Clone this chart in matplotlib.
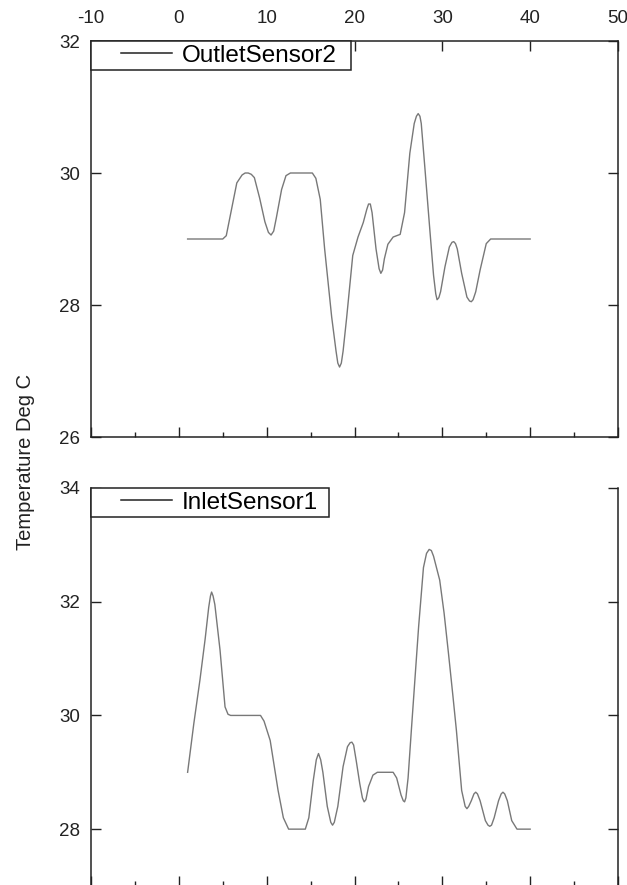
import numpy as np
import matplotlib.pyplot as plt
from matplotlib.lines import Line2D
from matplotlib.legend_handler import HandlerLine2D
from matplotlib.ticker import MultipleLocator

# values
outlet_time = [1, 5.0, 5.4, 6.0, 6.6, 7.2, 7.55, 7.9, 8.25, 8.6, 9.2, 9.8, 10.2, 10.5, 10.8,
               11.1, 11.7, 12.2, 12.7, 15.2, 15.6, 16.1, 16.6, 17.4, 17.9, 18.1, 18.3, 18.5,
               18.7, 19.1, 19.8, 20.4, 21.0, 21.4, 21.6, 21.8, 22.0, 22.45, 22.8, 23.0, 23.2,
               23.4, 23.8, 24.4, 25.2, 25.7, 26.3, 26.8, 27.05, 27.25, 27.45, 27.6, 28.0, 28.6,
               29.0, 29.25, 29.4, 29.6, 29.8, 30.3, 30.8, 31.1, 31.3, 31.5, 31.7, 32.2, 32.8,
               33.1, 33.3, 33.5, 33.8, 34.3, 35.0, 35.5, 40]
outlet_temp = [29.0, 29.0, 29.05, 29.45, 29.85, 29.97, 30.0, 30.0, 29.98, 29.93, 29.62, 29.26,
               29.1, 29.06, 29.12, 29.32, 29.75, 29.96, 30.0, 30.0, 29.92, 29.6, 28.85, 27.82,
               27.3, 27.12, 27.06, 27.12, 27.3, 27.8, 28.75, 29.03, 29.25, 29.45, 29.53, 29.53,
               29.4, 28.85, 28.55, 28.48, 28.53, 28.7, 28.92, 29.03, 29.07, 29.4, 30.3, 30.75,
               30.86, 30.9, 30.86, 30.75, 30.1, 29.1, 28.45, 28.17, 28.08, 28.11, 28.2, 28.58,
               28.88, 28.95, 28.96, 28.93, 28.85, 28.48, 28.12, 28.06, 28.05, 28.08, 28.2, 28.53,
               28.93, 29.0, 29.0]

inlet_time = [1, 1.7, 2.4, 3.0, 3.4, 3.6, 3.73, 3.9, 4.1, 4.69, 5.26, 5.6, 5.9, 9.3, 9.7, 10.4,
              11.3, 11.9, 12.5, 14.4, 14.8, 15.3, 15.65, 15.9, 16.15, 16.4, 16.9, 17.3, 17.5,
              17.7, 18.1, 18.7, 19.2, 19.5, 19.7, 19.9, 20.2, 20.6, 20.9, 21.1, 21.3, 21.6,
              22.1, 22.6, 24.4, 24.8, 25.3, 25.55, 25.7, 25.85, 26.1, 26.5, 27.0, 27.3, 27.85,
              28.2, 28.5, 28.75, 29.0, 29.7, 30.2, 30.7, 31.2, 31.6, 32.2, 32.6, 32.8, 33.0,
              33.3, 33.6, 33.8, 34.0, 34.3, 34.9, 35.2, 35.4, 35.6, 35.9, 36.4, 36.7, 36.9,
              37.1, 37.4, 37.9, 38.5, 40]
inlet_temp = [29.0, 29.85, 30.62, 31.35, 31.9, 32.1, 32.17, 32.1, 31.95, 31.15, 30.15, 30.02,
              30.0, 30.0, 29.9, 29.56, 28.68, 28.2, 28.0, 28.0, 28.2, 28.85, 29.22, 29.33,
              29.22, 29.0, 28.4, 28.12, 28.07, 28.12, 28.4, 29.1, 29.45, 29.52, 29.53, 29.48,
              29.2, 28.8, 28.55, 28.48, 28.52, 28.75, 28.95, 29.0, 29.0, 28.9, 28.6, 28.5,
              28.48, 28.55, 28.9, 29.8, 30.9, 31.56, 32.6, 32.85, 32.92, 32.9, 32.8, 32.38,
              31.8, 31.09, 30.35, 29.74, 28.68, 28.4, 28.36, 28.4, 28.5, 28.62, 28.65, 28.62,
              28.5, 28.15, 28.07, 28.05, 28.07, 28.2, 28.5, 28.62, 28.65, 28.62, 28.5, 28.15,
              28.0, 28.0]

xlim = (-10, 50)
outlet_ylim = (26, 32)
inlet_ylim = (27, 34)
outlet_yticks = [26, 28, 30, 32]
inlet_yticks = [28, 30, 32, 34]

plt.rcParams['font.family'] = ['Liberation Sans', 'DejaVu Sans']
plt.rcParams['axes.unicode_minus'] = False

LINE_COLOR = '#787878'
W, H = 627, 885

fig = plt.figure(figsize=(W / 100, H / 100), dpi=100)
ax_top = fig.add_axes([91 / W, 1 - 437 / H, 527 / W, 396 / H])
ax_bot = fig.add_axes([91 / W, 1 - 886 / H, 527 / W, 398 / H])


def style_axes(ax, yticks, top_labels):
    """Inward ticks on every visible side, Origin-like"""
    ax.set_xlim(*xlim)
    ax.xaxis.set_major_locator(MultipleLocator(10))
    ax.xaxis.set_minor_locator(MultipleLocator(5))
    ax.set_yticks(yticks)
    ax.tick_params(axis='both', which='both', direction='in', width=1, colors='#222222',
                   labelsize=13.5, labelcolor='#222222')
    ax.tick_params(axis='both', which='major', length=7)
    ax.tick_params(axis='both', which='minor', length=3.5)
    ax.tick_params(axis='y', right=True, pad=8)
    ax.tick_params(axis='x', top=top_labels, labeltop=top_labels, labelbottom=False, pad=10)
    for sp in ax.spines.values():
        sp.set_linewidth(1.1)
        sp.set_color('#222222')


def add_legend(ax, label, box_px):
    # box_px: legend frame width in pixels, the frame is stretched to it
    h = Line2D([], [], color='#222222', lw=1.1)
    leg = ax.legend([h], [label], loc='upper left', bbox_to_anchor=(0, 1, box_px / 527, 0),
                    mode='expand', borderaxespad=0, fontsize=17.5, frameon=True,
                    fancybox=False, framealpha=1, edgecolor='#222222', borderpad=0.15,
                    handlelength=3.2, handletextpad=0.4,
                    handler_map={Line2D: HandlerLine2D(xpad=1.1)})
    leg.get_frame().set_linewidth(1.1)


ax_top.plot(outlet_time, outlet_temp, color=LINE_COLOR, lw=1.0)
ax_top.set_ylim(*outlet_ylim)
style_axes(ax_top, outlet_yticks, True)
add_legend(ax_top, 'OutletSensor2', 260)

ax_bot.plot(inlet_time, inlet_temp, color=LINE_COLOR, lw=1.0)
ax_bot.set_ylim(*inlet_ylim)
style_axes(ax_bot, inlet_yticks, False)
ax_bot.spines['top'].set_visible(False)
add_legend(ax_bot, 'InletSensor1', 238)

fig.text(26 / W, 1 - 462 / H, 'Temperature Deg C', rotation=90, ha='center', va='center',
         fontsize=14.5, color='#222222')

fig.savefig('out.png', dpi=100)
